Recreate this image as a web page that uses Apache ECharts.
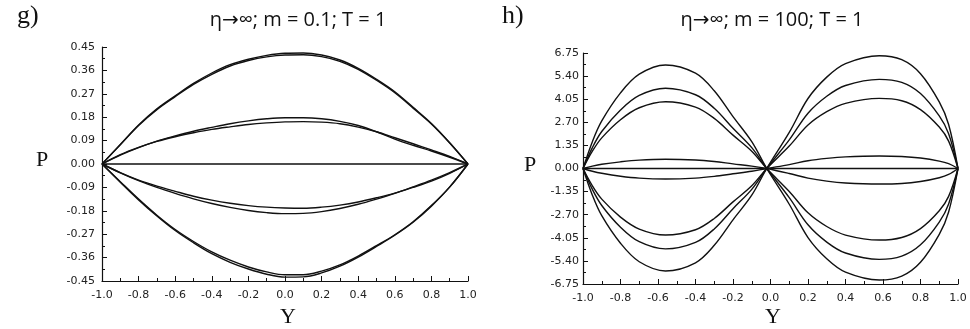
<!DOCTYPE html>
<html>
<head>
<meta charset="utf-8">
<script src="https://cdn.jsdelivr.net/npm/echarts@6/dist/echarts.min.js"></script>
<style>
  html, body { margin: 0; padding: 0; background: #fff; }
  #chart { width: 970px; height: 329px; }
</style>
</head>
<body>
<div id="chart"></div>
<script>
// panel g) : m = 0.1
var yG = [-1, -0.9, -0.8, -0.7, -0.6, -0.5, -0.4, -0.3, -0.2, -0.1, 0, 0.1, 0.2, 0.3, 0.4, 0.5, 0.6, 0.7, 0.8, 0.9, 1];
var gTop1 = [0, 0.075, 0.150, 0.212, 0.262, 0.310, 0.350, 0.382, 0.403, 0.418, 0.426, 0.427, 0.419, 0.400, 0.368, 0.326, 0.278, 0.218, 0.156, 0.082, 0];
var gTop2 = [0, 0.074, 0.148, 0.209, 0.259, 0.306, 0.345, 0.377, 0.398, 0.412, 0.419, 0.420, 0.413, 0.395, 0.364, 0.322, 0.274, 0.215, 0.154, 0.081, 0];
var gMid1 = [0, 0.034, 0.063, 0.088, 0.108, 0.126, 0.141, 0.155, 0.166, 0.174, 0.178, 0.178, 0.174, 0.164, 0.148, 0.124, 0.096, 0.072, 0.050, 0.026, 0];
var gMid2 = [0, 0.036, 0.064, 0.087, 0.105, 0.120, 0.133, 0.143, 0.152, 0.158, 0.162, 0.163, 0.161, 0.155, 0.142, 0.124, 0.101, 0.078, 0.054, 0.029, 0];
var gZero = [0, 0, 0, 0, 0, 0, 0, 0, 0, 0, 0, 0, 0, 0, 0, 0, 0, 0, 0, 0, 0];
var gLow1 = [0, -0.033, -0.062, -0.085, -0.105, -0.124, -0.139, -0.151, -0.160, -0.166, -0.169, -0.170, -0.166, -0.158, -0.146, -0.130, -0.112, -0.090, -0.066, -0.036, 0];
var gLow2 = [0, -0.034, -0.064, -0.090, -0.113, -0.134, -0.152, -0.167, -0.179, -0.187, -0.191, -0.190, -0.183, -0.171, -0.155, -0.135, -0.113, -0.088, -0.062, -0.033, 0];
var gBot1 = [0, -0.068, -0.135, -0.197, -0.252, -0.298, -0.338, -0.370, -0.396, -0.415, -0.426, -0.426, -0.412, -0.388, -0.354, -0.314, -0.272, -0.222, -0.160, -0.088, 0];
var gBot2 = [0, -0.070, -0.138, -0.200, -0.256, -0.303, -0.345, -0.378, -0.404, -0.424, -0.435, -0.434, -0.419, -0.393, -0.358, -0.317, -0.274, -0.224, -0.162, -0.089, 0];

// panel h) : m = 100
var yH = [-1, -0.95, -0.9, -0.8, -0.7, -0.56, -0.4, -0.3, -0.2, -0.1, -0.02, 0.1, 0.2, 0.3, 0.4, 0.58, 0.7, 0.8, 0.9, 0.95, 1];
var hA = [0, 1.57, 2.78, 4.42, 5.51, 6.05, 5.57, 4.54, 3.03, 1.57, 0, -2.09, -4.04, -5.28, -6.06, -6.52, -6.29, -5.48, -3.85, -2.54, 0];
var hB = [0, 1.22, 2.16, 3.42, 4.27, 4.69, 4.31, 3.52, 2.35, 1.22, 0, -1.70, -3.29, -4.30, -4.94, -5.31, -5.12, -4.46, -3.13, -2.07, 0];
var hC = [0, 1.01, 1.79, 2.85, 3.55, 3.90, 3.59, 2.93, 1.95, 1.01, 0, -1.34, -2.59, -3.39, -3.89, -4.18, -4.03, -3.51, -2.47, -1.63, 0];
var hD = [0, -1.01, -1.79, -2.84, -3.54, -3.89, -3.58, -2.92, -1.95, -1.01, 0, 1.31, 2.54, 3.32, 3.81, 4.10, 3.96, 3.44, 2.42, 1.60, 0];
var hE = [0, -1.22, -2.16, -3.43, -4.28, -4.70, -4.32, -3.53, -2.35, -1.22, 0, 1.67, 3.23, 4.22, 4.85, 5.21, 5.03, 4.38, 3.07, 2.03, 0];
var hF = [0, -1.56, -2.76, -4.37, -5.45, -5.99, -5.51, -4.49, -3.00, -1.56, 0, 2.11, 4.09, 5.34, 6.13, 6.59, 6.36, 5.54, 3.89, 2.57, 0];
var hG = [0, 0.14, 0.25, 0.39, 0.49, 0.54, 0.50, 0.41, 0.27, 0.14, 0, -0.29, -0.56, -0.74, -0.85, -0.91, -0.88, -0.76, -0.54, -0.35, 0];
var hH = [0, -0.16, -0.28, -0.45, -0.56, -0.61, -0.56, -0.46, -0.31, -0.16, 0, 0.23, 0.45, 0.59, 0.68, 0.73, 0.70, 0.61, 0.43, 0.28, 0];
var hZero = [0, 0, 0, 0, 0, 0, 0, 0, 0, 0, 0, 0, 0, 0, 0, 0, 0, 0, 0, 0, 0];

var gCurves = [gTop1, gTop2, gMid1, gMid2, gZero, gLow1, gLow2, gBot1, gBot2];
var hCurves = [hA, hB, hC, hD, hE, hF, hG, hH, hZero];

function zip(xs, vs) {
  return xs.map(function (x, i) { return [x, vs[i]]; });
}

function makeSeries(xs, curves, idx) {
  return curves.map(function (c) {
    return {
      type: 'line',
      xAxisIndex: idx,
      yAxisIndex: idx,
      data: zip(xs, c),
      smooth: 0.35,
      showSymbol: false,
      lineStyle: { color: '#111', width: 1.4 },
      silent: true
    };
  });
}

var tickFont = { fontFamily: 'DejaVu Sans', fontSize: 11, color: '#222' };

function xAxisCfg(idx) {
  return {
    gridIndex: idx, type: 'value', min: -1, max: 1, interval: 0.2,
    axisLine: { onZero: false, lineStyle: { color: '#111', width: 1.2 } },
    axisTick: { inside: true, length: 5, lineStyle: { color: '#111' } },
    minorTick: { show: true, splitNumber: 2, length: 3, lineStyle: { color: '#111' } },
    splitLine: { show: false },
    axisLabel: Object.assign({ margin: 9, formatter: function (v) { return v.toFixed(1); } }, tickFont)
  };
}

function yAxisCfg(idx, lim, step, gap) {
  return {
    gridIndex: idx, type: 'value', min: -lim, max: lim, interval: step,
    axisLine: { show: true, onZero: false, lineStyle: { color: '#111', width: 1.2 } },
    axisTick: { show: true, inside: true, length: 5, lineStyle: { color: '#111' } },
    minorTick: { show: true, splitNumber: 2, length: 3, lineStyle: { color: '#111' } },
    splitLine: { show: false },
    axisLabel: Object.assign({ margin: gap, formatter: function (v) { return v.toFixed(2); } }, tickFont)
  };
}

var chart = echarts.init(document.getElementById('chart'), null, { renderer: 'canvas' });

var serif = 'Liberation Serif';
var titleFont = '20px "Open Sans", "DejaVu Sans"';

var option = {
  backgroundColor: '#ffffff',
  animation: false,
  grid: [
    { left: 102, right: 502, top: 47, bottom: 48 },
    { left: 583, right: 12, top: 53, bottom: 45 }
  ],
  xAxis: [xAxisCfg(0), xAxisCfg(1)],
  yAxis: [yAxisCfg(0, 0.45, 0.09, 7), yAxisCfg(1, 6.75, 1.35, 4)],
  graphic: [
    { type: 'text', left: 17, top: 3, style: { text: 'g)', font: '26px ' + serif, fill: '#111' } },
    { type: 'text', left: 502, top: 3, style: { text: 'h)', font: '26px ' + serif, fill: '#111' } },
    { type: 'text', x: 298, y: 20, style: { text: 'η→∞; m = 0.1; T = 1', font: titleFont, fill: '#111', align: 'center', verticalAlign: 'middle' } },
    { type: 'text', x: 772, y: 20, style: { text: 'η→∞; m = 100; T = 1', font: titleFont, fill: '#111', align: 'center', verticalAlign: 'middle' } },
    { type: 'text', x: 42, y: 160, style: { text: 'P', font: '22px ' + serif, fill: '#111', align: 'center', verticalAlign: 'middle' } },
    { type: 'text', x: 530, y: 165, style: { text: 'P', font: '22px ' + serif, fill: '#111', align: 'center', verticalAlign: 'middle' } },
    { type: 'text', x: 288, y: 317, style: { text: 'Y', font: '22px ' + serif, fill: '#111', align: 'center', verticalAlign: 'middle' } },
    { type: 'text', x: 773, y: 317, style: { text: 'Y', font: '22px ' + serif, fill: '#111', align: 'center', verticalAlign: 'middle' } }
  ],
  series: makeSeries(yG, gCurves, 0).concat(makeSeries(yH, hCurves, 1))
};

chart.setOption(option);
</script>
</body>
</html>
